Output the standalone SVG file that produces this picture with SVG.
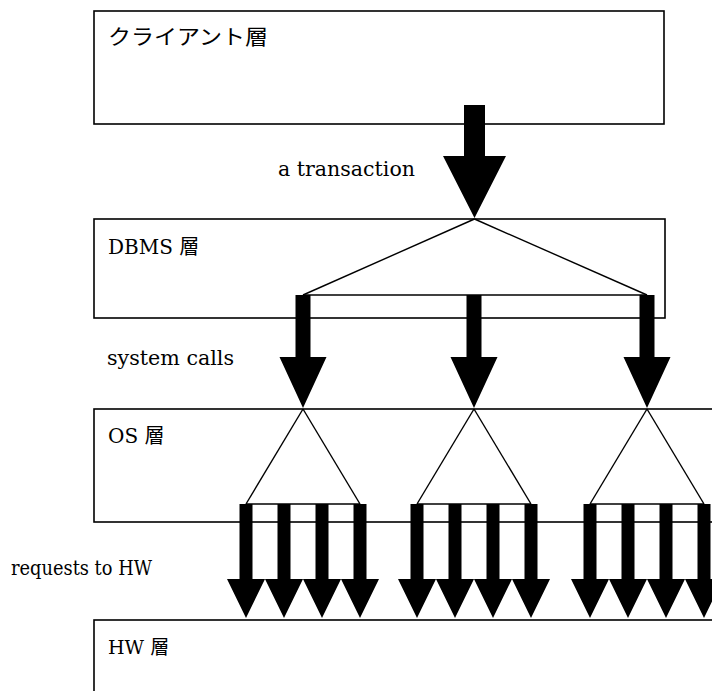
<svg xmlns="http://www.w3.org/2000/svg" width="712" height="691" viewBox="0 0 712 691">
<style>
.box{fill:#fff;stroke:#000;stroke-width:1.6}
.ln{stroke:#000;stroke-width:1.4;fill:none}
.ar{fill:#000;stroke:none}
.lbl{font-family:"DejaVu Serif","Noto Sans CJK JP",serif;font-size:20px;fill:#000}
.cjk{font-family:"Noto Sans CJK JP",sans-serif}
.jp{font-family:"Noto Sans CJK JP",sans-serif;font-size:21px;fill:#000}
</style>
<defs>
<polygon id="big" points="-7.5,0 7.5,0 7.5,62 23.5,62 0,113 -23.5,62 -7.5,62"/>
<polygon id="small" points="-6.5,0 6.5,0 6.5,75 19,75 0,114 -19,75 -6.5,75"/>
<g id="grp">
<line class="ln" x1="0" y1="409" x2="-57" y2="504"/>
<line class="ln" x1="0" y1="409" x2="57" y2="504"/>
<line class="ln" x1="-57" y1="504" x2="57" y2="504"/>
<use href="#small" x="-57" y="504" class="ar"/>
<use href="#small" x="-19" y="504" class="ar"/>
<use href="#small" x="19" y="504" class="ar"/>
<use href="#small" x="57" y="504" class="ar"/>
</g>
</defs>
<rect width="712" height="691" fill="#fff"/>
<g id="client">
<rect class="box" x="94" y="11" width="570" height="113"/>
<text class="jp" x="108" y="44" textLength="160" lengthAdjust="spacingAndGlyphs">クライアント層</text>
</g>
<g id="dbms">
<rect class="box" x="94" y="219" width="571" height="99"/>
<text class="lbl" x="108" y="254">DBMS <tspan class="cjk">層</tspan></text>
</g>
<g id="os">
<rect class="box" x="94" y="409" width="630" height="113"/>
<text class="lbl" x="108" y="443">OS <tspan class="cjk">層</tspan></text>
</g>
<g id="hw">
<rect class="box" x="94" y="620" width="630" height="90"/>
<text class="lbl" x="108" y="654" style="font-size:19px">HW <tspan class="cjk">層</tspan></text>
</g>
<g id="connectors">
<polygon class="ar" points="464,105 485,105 485,156 506,156 474.5,218 443,156 464,156"/>
<text class="lbl" x="278" y="176" textLength="137" lengthAdjust="spacingAndGlyphs">a transaction</text>
<line class="ln" x1="474.5" y1="219" x2="303" y2="295"/>
<line class="ln" x1="474.5" y1="219" x2="647" y2="295"/>
<line class="ln" x1="303" y1="295" x2="647" y2="295"/>
<use href="#big" x="303" y="295" class="ar"/>
<use href="#big" x="474" y="295" class="ar"/>
<use href="#big" x="647" y="295" class="ar"/>
<text class="lbl" x="107" y="365" textLength="127" lengthAdjust="spacingAndGlyphs">system calls</text>
<use href="#grp" x="303"/>
<use href="#grp" x="474"/>
<use href="#grp" x="647"/>
<text class="lbl" x="11" y="575" textLength="141" lengthAdjust="spacingAndGlyphs">requests to HW</text>
</g>
</svg>
